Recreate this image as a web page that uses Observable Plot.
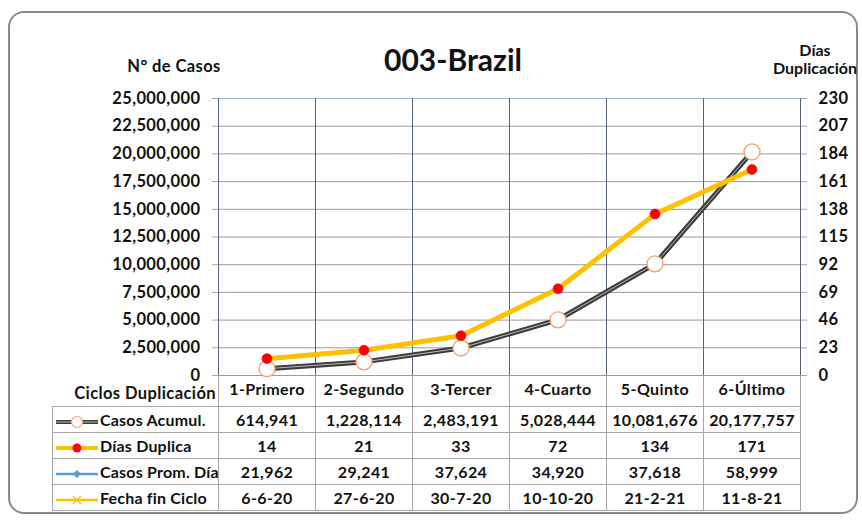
<!DOCTYPE html>
<html>
<head>
<meta charset="utf-8">
<script src="https://cdn.jsdelivr.net/npm/d3@7"></script>
<script src="https://cdn.jsdelivr.net/npm/@observablehq/plot@0.6"></script>
<style>
  html, body { margin: 0; padding: 0; background: #fff; }
  #wrap { position: relative; width: 862px; height: 522px; overflow: hidden; font-family: Lato, "Open Sans", sans-serif; font-weight: bold; color: #111; letter-spacing: 0.4px; }
  #frame { position: absolute; left: 8px; top: 11px; width: 850px; height: 503px; border: 2.5px solid #8a8a8a; border-radius: 16px; box-sizing: border-box; }
  #chart { position: absolute; left: 0; top: 0; }
  .lbl { position: absolute; font-size: 16.5px; text-align: center; line-height: 16.5px; white-space: nowrap; }
  #title { position: absolute; left: 0; width: 906px; top: 42px; text-align: center; font-size: 30px; line-height: 34px; letter-spacing: 0; }
  #tbl { position: absolute; left: 52px; top: 406px; border-collapse: collapse; table-layout: fixed; width: 749px; font-size: 16px; letter-spacing: 0.4px; }
  #tbl td { border: 1px solid #a6a6a6; height: 25px; padding: 0; text-align: center; overflow: hidden; }
  #tbl td.rl { text-align: left; white-space: nowrap; font-size: 16px; letter-spacing: 0.2px; }
  #tbl svg { vertical-align: middle; margin-left: 2px; margin-right: 1px; }
</style>
</head>
<body>
<div id="wrap">
  <div id="frame"></div>
  <div id="title"></div>
  <div class="lbl" id="ylab" style="left:114px; top:58px; width:120px;"></div>
  <div class="lbl" id="y2lab" style="left:760px; top:41px; width:110px; font-size:16px; line-height:18px; letter-spacing:0;"></div>
  <div id="chart"></div>
  <table id="tbl"><colgroup><col style="width:166px"><col style="width:97px"><col style="width:97px"><col style="width:97px"><col style="width:97px"><col style="width:97px"><col style="width:97px"></colgroup></table>
</div>
<script>
const titleText = "003-Brazil";
const yLabel = "N° de Casos";
const y2Label = ["Días", "Duplicación"];
const xLabel = "Ciclos Duplicación";
const cats = ["1-Primero", "2-Segundo", "3-Tercer", "4-Cuarto", "5-Quinto", "6-Último"];
const casosAcumul = [614941, 1228114, 2483191, 5028444, 10081676, 20177757];
const diasDuplica = [14, 21, 33, 72, 134, 171];
const casosPromDia = [21962, 29241, 37624, 34920, 37618, 58999];
const fechaFin = ["6-6-20", "27-6-20", "30-7-20", "10-10-20", "21-2-21", "11-8-21"];
const seriesNames = ["Casos Acumul.", "Días Duplica", "Casos Prom. Día", "Fecha fin Ciclo"];
const leftTicks = [0, 2500000, 5000000, 7500000, 10000000, 12500000, 15000000, 17500000, 20000000, 22500000, 25000000];
const rightTicks = [0, 23, 46, 69, 92, 115, 138, 161, 184, 207, 230];

const yMax = 25000000, y2Max = 230, k = yMax / y2Max;
const rows = cats.map((c, i) => ({cat: c, xi: i + 0.5, casos: casosAcumul[i], dias: diasDuplica[i] * k}));
const bounds = d3.range(cats.length + 1);

document.getElementById("title").textContent = titleText;
document.getElementById("ylab").textContent = yLabel;
document.getElementById("y2lab").innerHTML = y2Label.join("<br>");

const chart = Plot.plot({
  width: 862,
  height: 406,
  marginLeft: 218,
  marginRight: 62,
  marginTop: 98,
  marginBottom: 31,
  style: {fontFamily: "Lato, 'Open Sans', sans-serif", fontWeight: "bold", fontSize: "16.5px", letterSpacing: "0.4px", color: "#111", background: "transparent"},
  x: {domain: [0, cats.length], axis: null},
  y: {domain: [0, yMax], axis: null},
  marks: [
    Plot.gridY(leftTicks, {stroke: "#9a9a9a", strokeOpacity: 1}),
    Plot.ruleY([yMax], {stroke: "#8fb4df", strokeWidth: 1.2}),
    Plot.ruleX(bounds, {stroke: "#55647a", strokeWidth: 1}),
    Plot.ruleX(bounds, {y1: 0, y2: -yMax * 31 / 277, stroke: "#a6a6a6"}),
    Plot.line(rows, {x: "xi", y: "casos", stroke: "#3c3c3c", strokeWidth: 5}),
    Plot.line(rows, {x: "xi", y: "casos", stroke: "#b8b8b8", strokeWidth: 1}),
    Plot.line(rows, {x: "xi", y: "dias", stroke: "#FFC000", strokeWidth: 5}),
    Plot.dot(rows, {x: "xi", y: "casos", r: 8, fill: "white", stroke: "#f0a070", strokeWidth: 1.3}),
    Plot.dot(rows, {x: "xi", y: "dias", r: 5, fill: "#ff0000", stroke: "#c02020", strokeWidth: 0.6}),
    Plot.axisY(leftTicks, {anchor: "left", tickSize: 6, tickPadding: 12, stroke: "#a6a6a6", tickFormat: d3.format(","), label: null}),
    Plot.axisY(rightTicks.map(v => v * k), {anchor: "right", tickSize: 6, tickPadding: 12, stroke: "#a6a6a6", tickFormat: d => String(Math.round(d / k)), label: null}),
    Plot.axisX(rows.map(d => d.xi), {anchor: "bottom", tickSize: 0, tickPadding: 8, fontSize: 16, tickFormat: d => cats[Math.round(d - 0.5)], label: null})
  ]
});
chart.style.overflow = "visible";
document.getElementById("chart").appendChild(chart);

// "Ciclos Duplicación" label left of the category header
const cl = document.createElement("div");
cl.className = "lbl";
cl.style.cssText = "left:30px; top:386px; width:186px; text-align:right; line-height:14px;";
cl.textContent = xLabel;
document.getElementById("wrap").appendChild(cl);

// legend icons
const icons = [
  `<svg width="44" height="14"><line x1="1" y1="7" x2="43" y2="7" stroke="#3c3c3c" stroke-width="4"/><line x1="1" y1="7" x2="43" y2="7" stroke="#b8b8b8" stroke-width="1"/><circle cx="22" cy="7" r="5.5" fill="white" stroke="#f0a070" stroke-width="1.2"/></svg>`,
  `<svg width="44" height="14"><line x1="1" y1="7" x2="43" y2="7" stroke="#FFC000" stroke-width="4"/><circle cx="22" cy="7" r="4.5" fill="#ff0000"/></svg>`,
  `<svg width="44" height="14"><line x1="1" y1="7" x2="43" y2="7" stroke="#5b9bd5" stroke-width="2.5"/><path d="M22 3 L26 7 L22 11 L18 7 Z" fill="#5b9bd5"/></svg>`,
  `<svg width="44" height="14"><line x1="1" y1="7" x2="43" y2="7" stroke="#FFC000" stroke-width="2.5"/><path d="M18 3 L26 11 M26 3 L18 11" stroke="#FFC000" stroke-width="1.2"/></svg>`
];
const tableData = [
  casosAcumul.map(d3.format(",")),
  diasDuplica.map(String),
  casosPromDia.map(d3.format(",")),
  fechaFin
];
const tbl = document.getElementById("tbl");
tableData.forEach((vals, r) => {
  const tr = document.createElement("tr");
  const td0 = document.createElement("td");
  td0.className = "rl";
  td0.innerHTML = icons[r] + seriesNames[r];
  tr.appendChild(td0);
  vals.forEach(v => {
    const td = document.createElement("td");
    td.textContent = v;
    tr.appendChild(td);
  });
  tbl.appendChild(tr);
});
</script>
</body>
</html>
